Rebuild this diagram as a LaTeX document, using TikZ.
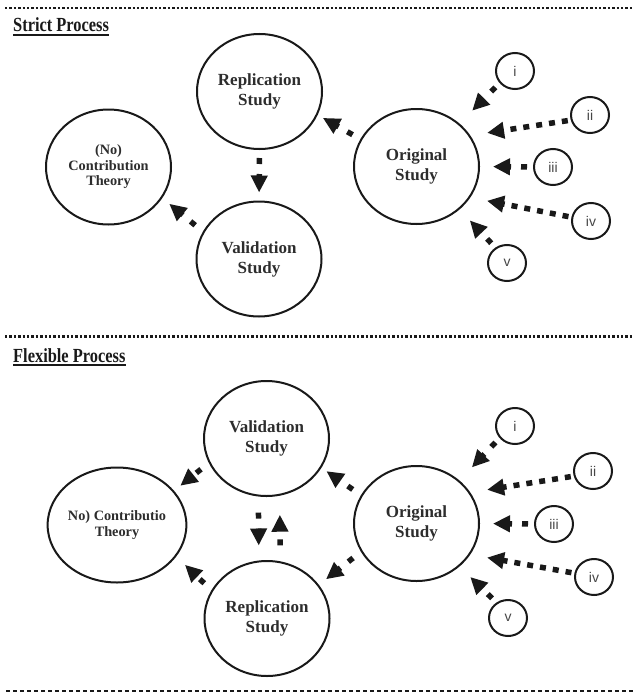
\documentclass[tikz,border=0pt]{standalone}
\usepackage{fontspec}
\setmainfont{Liberation Serif}
\newfontfamily\headfont[FakeStretch=0.82]{Liberation Serif}
\newfontfamily\smallfont{Liberation Sans}
\usetikzlibrary{arrows.meta,shapes.geometric}
\definecolor{Ink}{RGB}{25,25,25}
\definecolor{TextGray}{RGB}{45,45,45}
\definecolor{LabelGray}{RGB}{70,70,70}
\tikzset{
  study/.style={ellipse,draw=Ink,line width=2pt,minimum width=125pt,minimum height=115pt,inner sep=0pt,align=center,text=TextGray,font=\fontsize{17}{20}\selectfont\bfseries},
  theory/.style={study,font=\fontsize{14.3}{15.5}\selectfont\bfseries},
  source/.style={ellipse,draw=Ink,line width=2pt,minimum width=38pt,minimum height=36pt,inner sep=0pt,text=LabelGray,font=\smallfont\fontsize{14}{15}\selectfont},
  flow/.style={-{Triangle[length=17pt,width=16pt]},draw=Ink,line width=5.5pt,dash pattern=on 6pt off 10pt,dash phase=10pt},
  longflow/.style={flow,dash pattern=on 6pt off 7pt,dash phase=10pt},
  heading/.style={anchor=base west,inner sep=0pt,text=Ink,font=\headfont\fontsize{20}{22}\selectfont\bfseries},
  dotline/.style={draw=Ink,line width=2.6pt,dash pattern=on 2.4pt off 2pt},
  dashline/.style={draw=Ink,line width=1.6pt,dash pattern=on 4pt off 3pt}
}

\begin{document}
\begin{tikzpicture}[x=1pt,y=-1pt]
\useasboundingbox (0,0) rectangle (633,693);
% separators
\draw[dotline] (5,8) -- (633,8);
\draw[dotline] (5,336.7) -- (633,336.7);
\draw[dashline] (6,691) -- (633,691);
% strict process
\node[heading] (hstrict) at (13,32) {Strict Process};
\draw[Ink,line width=1.5pt] ([yshift=-3pt]hstrict.base west) -- ([yshift=-3pt]hstrict.base east);
\node[theory] (scon) at (108.5,167) {(No)\\Contribution\\Theory};
\node[study] (srep) at (259.5,91.5) {Replication\\Study};
\node[study] (sval) at (259,259) {Validation\\Study};
\node[study] (sorg) at (416.5,166.5) {Original\\Study};
\node[source] (si) at (515,71) {i};
\node[source] (sii) at (590,115) {ii};
\node[source] (siii) at (553,167) {iii};
\node[source] (siv) at (591,221) {iv};
\node[source] (sv) at (507,263) {v};
\draw[flow,shorten >=18pt] (si.218) -- (sorg.45);
\draw[longflow,shorten >=17pt] (sii.195) -- (sorg.30);
\draw[flow,shorten >=13pt] (siii.west) -- (sorg.east);
\draw[longflow,shorten >=17pt] (siv.169) -- (sorg.330);
\draw[flow,shorten >=15pt] (sv.127) -- (sorg.315);
\draw[flow,shorten <=3pt,shorten >=6pt] (sorg.154) -- (srep.338);
\draw[flow,shorten <=2pt,shorten >=8pt] (srep.south) -- (sval.north);
\draw[flow,shorten <=4pt,shorten >=9pt] (sval.154) -- (scon.330);
% flexible process
\node[heading] (hflex) at (13,362) {Flexible Process};
\draw[Ink,line width=1.5pt] ([yshift=-3pt]hflex.base west) -- ([yshift=-3pt]hflex.base east);
\node[theory] (fcon) at (117,525) {No) Contributio\\Theory};
\node[study] (fval) at (266.5,438.5) {Validation\\Study};
\node[study] (frep) at (267,618.5) {Replication\\Study};
\node[study] (forg) at (416.5,523.5) {Original\\Study};
\node[source] (fi) at (515,426) {i};
\node[source] (fii) at (593,471) {ii};
\node[source] (fiii) at (554,524) {iii};
\node[source] (fiv) at (594,577) {iv};
\node[source] (fv) at (508,618) {v};
\draw[flow,shorten >=18pt] (fi.218) -- (forg.45);
\draw[longflow,shorten >=17pt] (fii.195) -- (forg.30);
\draw[flow,shorten >=13pt] (fiii.west) -- (forg.east);
\draw[longflow,shorten >=17pt] (fiv.169) -- (forg.330);
\draw[flow,shorten >=15pt] (fv.127) -- (forg.315);
\draw[flow,shorten <=4pt,shorten >=6pt] (forg.153) -- (fval.332);
\draw[flow,shorten <=4pt,shorten >=9pt] (forg.207) -- (frep.33);
\draw[flow,shorten <=4pt,shorten >=8pt] (fval.203) -- (fcon.31);
\draw[flow,shorten <=4pt,shorten >=12pt] (frep.153) -- (fcon.332);
\draw[flow,shorten <=10pt,shorten >=15pt] (fval.262) -- (frep.98);
\draw[flow,shorten <=10pt,shorten >=19pt] (frep.77) -- (fval.283);
\end{tikzpicture}
\end{document}
